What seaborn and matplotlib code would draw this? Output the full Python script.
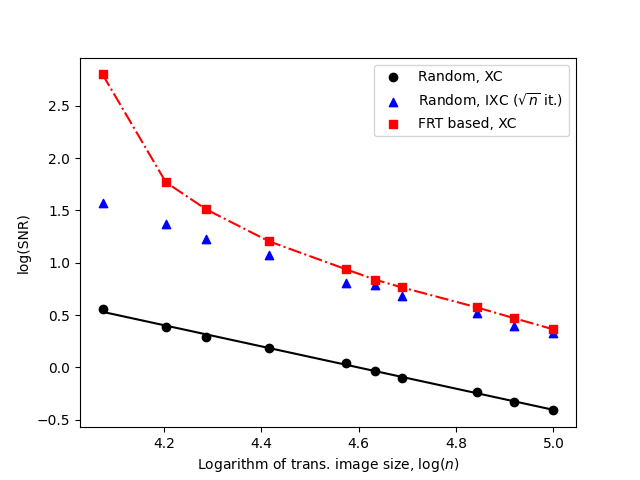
import numpy as np
import pandas as pd
import matplotlib
matplotlib.use("Agg")
import matplotlib.pyplot as plt
import seaborn as sns

log_n = [4.074, 4.204, 4.287, 4.416, 4.573, 4.633, 4.689, 4.843, 4.920, 5.000]
random_xc = [0.555, 0.39, 0.287, 0.19, 0.04, -0.03, -0.105, -0.23, -0.325, -0.41]
random_ixc = [1.57, 1.37, 1.225, 1.07, 0.81, 0.785, 0.68, 0.517, 0.40, 0.325]
frt_xc = [2.80, 1.77, 1.51, 1.205, 0.94, 0.84, 0.765, 0.574, 0.47, 0.364]

labels = ["Random, XC", r"Random, IXC ($\sqrt{n}$ it.)", "FRT based, XC"]

plt.rcParams.update(plt.rcParamsDefault)
fig, ax = plt.subplots(figsize=(6.4, 4.8), dpi=100)

x = np.array(log_n)
coef = np.polyfit(x, np.array(random_xc), 1)
fit_df = pd.DataFrame({"x": x, "y": np.polyval(coef, x)})
sns.lineplot(data=fit_df, x="x", y="y", color="black", lw=1.5, ax=ax, legend=False)

frt_df = pd.DataFrame({"x": x, "y": frt_xc})
sns.lineplot(data=frt_df, x="x", y="y", color="red", lw=1.5, linestyle="-.", ax=ax, legend=False)

for vals, color, marker, lab in [
    (random_xc, "black", "o", labels[0]),
    (random_ixc, "blue", "^", labels[1]),
    (frt_xc, "red", "s", labels[2]),
]:
    df = pd.DataFrame({"x": x, "y": vals})
    sns.scatterplot(data=df, x="x", y="y", color=color, marker=marker, s=36,
                    linewidth=1, edgecolor=color, ax=ax, label=lab, zorder=3)

ax.set_xlabel(r"Logarithm of trans. image size, $\log(n)$")
ax.set_ylabel("log(SNR)")
ax.set_xticks([4.2, 4.4, 4.6, 4.8, 5.0])
ax.legend(loc="upper right")
fig.savefig("out.png", dpi=100)
